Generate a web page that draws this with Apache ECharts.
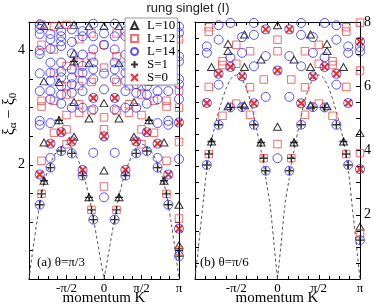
<!DOCTYPE html>
<html><head><meta charset="utf-8">
<script src="https://cdn.jsdelivr.net/npm/echarts@6/dist/echarts.min.js"></script>
<style>html,body{margin:0;padding:0;background:#fff}#c{width:374px;height:308px}</style>
</head><body><div id="c"></div>
<script>
// ---- tick labels (K in units of pi) ----
const xTickLabels = [[-0.5, '-π/2'], [0, '0'], [0.5, 'π/2'], [1, 'π']];
const leftYLabels = [2, 4];
const rightYLabels = [2, 4, 6, 8];

// ---- panel (a) theta = pi/3 : [K/pi, [levels]] ----
const aL10 = [
  [-0.8, [1.72, 2.39, 3.46, 4.43]], [-0.6, [2.78, 3.45, 4.45]], [-0.4, [2.49, 3.10, 3.81, 3.95, 4.45]],
  [-0.2, [1.43, 2.81, 3.78, 4.43]], [0, [1.90, 3.08, 4.43]],
  [0.2, [1.43, 2.81, 3.78, 4.43]], [0.4, [2.49, 3.10, 3.81, 3.95, 4.45]], [0.6, [2.78, 3.45, 4.45]],
  [0.8, [1.72, 2.39, 3.46, 4.43]], [1, [0.59, 1.30]]
];
const aL12 = [
  [-0.833, [1.49, 2.07, 3.02, 3.12, 4.10, 4.45]], [-0.667, [2.56, 3.12, 3.61, 4.02, 4.42]],
  [-0.5, [2.36, 2.62, 2.87, 3.23, 3.38, 3.73, 4.45]], [-0.333, [2.91, 3.06, 3.38, 3.61, 3.79, 4.20]],
  [-0.167, [1.21, 2.95, 3.45, 3.90, 4.30]], [0, [1.62, 2.62, 2.83, 3.70, 4.10]],
  [0.167, [1.21, 2.95, 3.45, 3.90, 4.30]], [0.333, [2.91, 3.06, 3.38, 3.61, 3.79, 4.20]],
  [0.5, [2.36, 2.62, 2.87, 3.23, 3.38, 3.73, 4.45]], [0.667, [2.56, 3.12, 3.61, 4.02, 4.42]],
  [0.833, [1.49, 2.07, 3.02, 3.12, 4.10, 4.45]], [1, [0.50, 1.06, 2.40, 3.00, 3.30, 4.20]]
];
const aL14 = [
  [-0.857, [1.30, 1.83, 2.70, 2.77, 3.29, 3.60, 3.94, 4.00, 4.29, 4.38, 4.46]],
  [-0.714, [1.95, 2.12, 2.37, 2.73, 3.15, 3.29, 3.47, 3.61, 3.79, 4.03, 4.20, 4.29]],
  [-0.571, [2.24, 2.57, 3.07, 3.23, 3.38, 3.53, 3.63, 3.79, 4.08, 4.16, 4.25, 4.34]],
  [-0.429, [2.20, 2.41, 3.00, 3.26, 3.41, 3.53, 3.67, 3.95, 4.15, 4.37]],
  [-0.286, [1.81, 1.91, 3.00, 3.29, 3.47, 3.61, 3.73, 3.93, 4.25, 4.34]],
  [-0.143, [1.04, 2.21, 2.97, 3.17, 3.50, 3.67, 3.79, 4.02, 4.25, 4.47]],
  [0, [1.43, 2.50, 3.32, 3.60, 4.10, 4.30]],
  [0.143, [1.04, 2.21, 2.97, 3.17, 3.50, 3.67, 3.79, 4.02, 4.25, 4.47]],
  [0.286, [1.81, 1.91, 3.00, 3.29, 3.47, 3.61, 3.73, 3.93, 4.25, 4.34]],
  [0.429, [2.20, 2.41, 3.00, 3.26, 3.41, 3.53, 3.67, 3.95, 4.15, 4.37]],
  [0.571, [2.24, 2.57, 3.07, 3.23, 3.38, 3.53, 3.63, 3.79, 4.08, 4.16, 4.25, 4.34]],
  [0.714, [1.95, 2.12, 2.37, 2.73, 3.15, 3.29, 3.47, 3.61, 3.79, 4.03, 4.20, 4.29]],
  [0.857, [1.30, 1.83, 2.70, 2.77, 3.29, 3.60, 3.94, 4.00, 4.29, 4.38, 4.46]],
  [1, [0.40, 0.88, 2.10, 2.74, 3.15, 3.41, 3.50, 3.81, 3.90, 4.31, 4.42]]
];
const aS1 = [
  [-0.857, 1.30], [-0.833, 1.49], [-0.8, 1.72], [-0.714, 1.95], [-0.6, 2.78], [-0.571, 2.24],
  [-0.429, 2.20], [-0.4, 3.81], [-0.286, 1.81], [-0.2, 1.43], [-0.167, 1.21], [-0.143, 1.04],
  [0.143, 1.04], [0.167, 1.21], [0.2, 1.43], [0.286, 1.81], [0.4, 3.81], [0.429, 2.20],
  [0.571, 2.24], [0.6, 2.78], [0.714, 1.95], [0.8, 1.72], [0.833, 1.49], [0.857, 1.30],
  [1, 0.40], [1, 0.50]
];
const aS0 = [
  [-0.857, 1.83], [-0.714, 2.37], [-0.571, 2.57], [-0.429, 2.41], [-0.286, 1.91], [-0.143, 3.17],
  [0, 2.50], [0.143, 3.17], [0.286, 1.91], [0.429, 2.41], [0.571, 2.57], [0.714, 2.37], [0.857, 1.83],
  [1, 0.88], [1, 2.74]
];
const aCurveL = [[-1, 0], [-0.95, 0.5], [-0.9, 0.95], [-0.857, 1.3], [-0.8, 1.68], [-0.74, 1.93], [-0.68, 2.12],
  [-0.62, 2.25], [-0.56, 2.33], [-0.5, 2.36], [-0.44, 2.31], [-0.38, 2.18], [-0.32, 2.0], [-0.26, 1.76],
  [-0.2, 1.45], [-0.14, 1.05], [-0.07, 0.52], [0, 0]];
const aCurveR = [[0, 0], [0.07, 0.52], [0.14, 1.05], [0.2, 1.45], [0.26, 1.76], [0.32, 2.0], [0.38, 2.18],
  [0.44, 2.31], [0.5, 2.36], [0.56, 2.33], [0.62, 2.25], [0.68, 2.12], [0.74, 1.93], [0.8, 1.68],
  [0.857, 1.3], [0.9, 0.95], [0.95, 0.5], [1, 0]];

// ---- panel (b) theta = pi/6 ----
const bL10 = [
  [-0.8, [4.28, 6.60]], [-0.6, [5.38, 7.10, 7.32]], [-0.4, [5.41, 6.60, 7.61]], [-0.2, [4.25, 6.83]],
  [0, [4.74, 7.90]], [0.2, [4.25, 6.83]], [0.4, [5.41, 6.60, 7.61]], [0.6, [5.38, 7.10, 7.32]],
  [0.8, [4.28, 6.60]], [1, [1.63, 4.54]]
];
const bL12 = [
  [-0.833, [3.89, 5.98, 7.70, 7.84]], [-0.667, [5.08, 6.66, 6.78]], [-0.5, [5.46, 6.70, 7.29]],
  [-0.333, [5.11, 5.97, 7.09]], [-0.167, [3.76, 6.21]], [0, [4.20, 7.09, 7.45]],
  [0.167, [3.76, 6.21]], [0.333, [5.11, 5.97, 7.09]], [0.5, [5.46, 6.70, 7.29]],
  [0.667, [5.08, 6.66, 6.78]], [0.833, [3.89, 5.98, 7.70, 7.84]], [1, [1.42, 3.92, 6.49, 7.98]]
];
const bL14 = [
  [-0.857, [3.55, 5.48, 7.04, 7.24]], [-0.714, [4.80, 6.05, 6.39, 7.45, 7.90]],
  [-0.571, [5.34, 6.60, 6.90, 7.97]], [-0.429, [5.35, 6.31, 7.04, 7.53]],
  [-0.286, [4.80, 5.47, 6.62, 7.60, 7.97]], [-0.143, [3.37, 5.67, 6.94, 7.77]],
  [0, [3.76, 6.49]],
  [0.143, [3.37, 5.67, 6.94, 7.77]], [0.286, [4.80, 5.47, 6.62, 7.60, 7.97]],
  [0.429, [5.35, 6.31, 7.04, 7.53]], [0.571, [5.34, 6.60, 6.90, 7.97]],
  [0.714, [4.80, 6.05, 6.39, 7.45, 7.90]], [0.857, [3.55, 5.48, 7.04, 7.24]],
  [1, [1.21, 3.42, 7.08, 7.22, 7.39]]
];
const bS1 = [
  [-0.857, 3.55], [-0.833, 3.89], [-0.8, 4.28], [-0.714, 4.80], [-0.571, 5.34], [-0.429, 5.35],
  [-0.286, 4.80], [-0.2, 4.25], [-0.167, 3.76], [-0.143, 3.37],
  [0.143, 3.37], [0.167, 3.76], [0.2, 4.25], [0.286, 4.80], [0.429, 5.35], [0.571, 5.34],
  [0.714, 4.80], [0.8, 4.28], [0.833, 3.89], [0.857, 3.55], [1, 1.21]
];
const bS0 = [
  [-0.857, 5.48], [-0.714, 6.39], [-0.571, 6.60], [-0.429, 6.31], [-0.286, 5.47], [-0.143, 7.77],
  [0, 6.49], [0.143, 7.77], [0.286, 5.47], [0.429, 6.31], [0.571, 6.60], [0.714, 6.39], [0.857, 5.48],
  [1, 3.42], [1, 7.39]
];
const bCurveL = [[-1, 0], [-0.95, 1.2], [-0.9, 2.4], [-0.86, 3.35], [-0.8, 4.3], [-0.74, 4.95], [-0.68, 5.5],
  [-0.62, 5.95], [-0.56, 6.25], [-0.5, 6.35], [-0.44, 6.25], [-0.38, 5.95], [-0.32, 5.45], [-0.26, 4.75],
  [-0.2, 4.0], [-0.14, 3.1], [-0.09, 2.3], [-0.045, 1.15], [0, 0]];
const bCurveR = [[0, 0], [0.045, 1.15], [0.09, 2.3], [0.14, 3.1], [0.2, 4.0], [0.26, 4.75], [0.32, 5.45],
  [0.38, 5.95], [0.44, 6.25], [0.5, 6.35], [0.56, 6.25], [0.62, 5.95], [0.68, 5.5], [0.74, 4.95],
  [0.8, 4.3], [0.86, 3.35], [0.9, 2.4], [0.95, 1.2], [1, 0]];

// ---- build ----
function flat(cols) { const o = []; cols.forEach(c => c[1].forEach(v => o.push([c[0], v]))); return o; }
const SERIF = 'Liberation Serif';
const PLUS = 'path://M0,5L10,5M5,0L5,10';
const CROSS = 'path://M1,1L9,9M9,1L1,9';
const styles = {
  'L=10': { symbol: 'triangle', symbolSize: [8, 7], itemStyle: { color: 'rgba(0,0,0,0)', borderColor: '#000', borderWidth: 1 } },
  'L=12': { symbol: 'rect', symbolSize: 7.5, itemStyle: { color: 'rgba(0,0,0,0)', borderColor: '#f24848', borderWidth: 1 } },
  'L=14': { symbol: 'circle', symbolSize: 9, itemStyle: { color: 'rgba(0,0,0,0)', borderColor: '#2a2aff', borderWidth: 1 } },
  'S=1': { symbol: PLUS, symbolSize: 8, itemStyle: { color: 'rgba(0,0,0,0)', borderColor: '#000', borderWidth: 1.4 } },
  'S=0': { symbol: CROSS, symbolSize: 7, itemStyle: { color: 'rgba(0,0,0,0)', borderColor: '#e00000', borderWidth: 2 } }
};
function sc(name, data, gi) {
  return Object.assign({ name, type: 'scatter', xAxisIndex: gi * 2, yAxisIndex: gi * 2, data, silent: true, z: 3 }, styles[name]);
}
function curve(data, gi) {
  return { type: 'line', xAxisIndex: gi * 2, yAxisIndex: gi * 2, data, symbol: 'none', smooth: 0.3, silent: true, z: 2,
    lineStyle: { color: '#555', width: 1, type: [3, 2.5] } };
}
function xLab(v) { for (const t of xTickLabels) if (Math.abs(t[0] - v) < 1e-6) return t[1]; return ''; }
function yLab(list) { return v => (list.some(t => Math.abs(t - v) < 1e-6) ? String(v) : ''); }
const tick = { show: true, inside: true, length: 4, lineStyle: { color: '#000' } };
const minor = { show: true, splitNumber: 4, length: 3, lineStyle: { color: '#000' } };
const line = { show: true, onZero: false, lineStyle: { color: '#000', width: 1 } };
function xAx(gi, pos, lab) {
  return { type: 'value', gridIndex: gi, position: pos, min: -1, max: 1, interval: 0.5, axisLine: line, axisTick: tick, minorTick: minor,
    splitLine: { show: false },
    axisLabel: { show: lab, formatter: xLab, fontFamily: SERIF, fontSize: 13, color: '#000', margin: 3 } };
}
function yAx(gi, pos, max, labs) {
  return { type: 'value', gridIndex: gi, position: pos, min: 0, max: max, interval: 0.5, axisLine: line, axisTick: tick,
    splitLine: { show: false },
    axisLabel: { show: !!labs, formatter: labs ? yLab(labs) : '', fontFamily: SERIF, fontSize: 14, color: '#000', margin: 4 } };
}
const series = [
  curve(aCurveL, 0), curve(aCurveR, 0), curve(bCurveL, 1), curve(bCurveR, 1),
  sc('L=10', flat(aL10), 0), sc('L=12', flat(aL12), 0), sc('L=14', flat(aL14), 0), sc('S=1', aS1, 0), sc('S=0', aS0, 0),
  sc('L=10', flat(bL10), 1), sc('L=12', flat(bL12), 1), sc('L=14', flat(bL14), 1), sc('S=1', bS1, 1), sc('S=0', bS0, 1)
];
const chart = echarts.init(document.getElementById('c'), null, { renderer: 'canvas' });
chart.setOption({
  animation: false,
  backgroundColor: '#fff',
  grid: [
    { left: 29, top: 22, width: 150, height: 257 },
    { left: 195, top: 22, width: 165, height: 257 }
  ],
  xAxis: [xAx(0, 'bottom', true), xAx(0, 'top', false), xAx(1, 'bottom', true), xAx(1, 'top', false)],
  yAxis: [yAx(0, 'left', 4.5, leftYLabels), yAx(0, 'right', 4.5, null), yAx(1, 'left', 8, null), yAx(1, 'right', 8, rightYLabels)],
  legend: {
    left: 125, top: 18, orient: 'vertical', data: ['L=10', 'L=12', 'L=14', 'S=1', 'S=0'],
    backgroundColor: '#fff', borderColor: '#999', borderWidth: 1, borderRadius: 0,
    padding: [1, 2, 1, 5], itemWidth: 7, itemHeight: 7, itemGap: 0, selectedMode: false,
    textStyle: { fontFamily: SERIF, fontSize: 13, color: '#000', lineHeight: 11, padding: [0, 0, 0, 4] }
  },
  graphic: [
    { type: 'text', x: 188, y: 8, style: { text: 'rung singlet (I)', font: '13px "Liberation Sans"', fill: '#222', align: 'center', verticalAlign: 'middle' } },
    { type: 'text', x: 10, y: 114, rotation: Math.PI / 2, style: {
        text: '{m|ξ}{s|α}{m| − ξ}{s|0}', align: 'center', verticalAlign: 'middle', fill: '#000',
        rich: { m: { fontSize: 16, fontFamily: SERIF, fill: '#000' }, s: { fontSize: 11, fontFamily: SERIF, fill: '#000', padding: [7, 0, 0, 0] } } } },
    { type: 'text', x: 37, y: 263, style: { text: '(a) θ=π/3', font: '13px "Liberation Serif"', fill: '#000', align: 'left', verticalAlign: 'middle' } },
    { type: 'text', x: 200, y: 263, style: { text: '(b) θ=π/6', font: '13px "Liberation Serif"', fill: '#000', align: 'left', verticalAlign: 'middle' } },
    { type: 'text', x: 104, y: 298, style: { text: 'momentum K', font: '15px "Liberation Serif"', fill: '#000', align: 'center', verticalAlign: 'middle' } },
    { type: 'text', x: 277, y: 298, style: { text: 'momentum K', font: '15px "Liberation Serif"', fill: '#000', align: 'center', verticalAlign: 'middle' } }
  ],
  series
});
</script></body></html>
